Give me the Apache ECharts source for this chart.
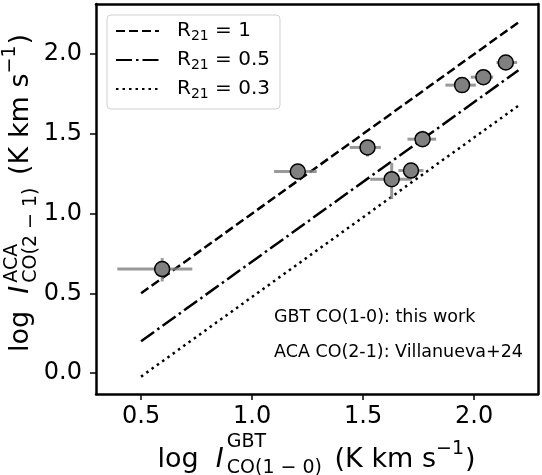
<!DOCTYPE html>
<html><head><meta charset="utf-8">
<script src="https://cdn.jsdelivr.net/npm/echarts@6/dist/echarts.min.js"></script>
<style>html,body{margin:0;padding:0;background:#fff}#c{width:542px;height:475px}</style>
</head><body><div id="c"></div>
<script>
// ---- data ----
const xTicks = [0.5, 1.0, 1.5, 2.0];
const yTicks = [0.0, 0.5, 1.0, 1.5, 2.0];
const ptX   = [0.595, 1.206, 1.520, 1.629, 1.716, 1.768, 1.946, 2.042, 2.143];
const ptY   = [0.652, 1.264, 1.415, 1.216, 1.270, 1.467, 1.806, 1.856, 1.948];
const xLo   = [0.393, 1.099, 1.440, 1.532, 1.659, 1.700, 1.871, 1.985, 2.101];
const xHi   = [0.731, 1.291, 1.580, 1.719, 1.772, 1.829, 2.008, 2.086, 2.194];
const yLo   = [0.574, 1.240, 1.358, 1.091, 1.245, 1.420, 1.782, 1.810, 1.928];
const yHi   = [0.721, 1.288, 1.463, 1.317, 1.295, 1.520, 1.830, 1.900, 1.968];
const lineR1  = [[0.5, 0.5], [2.2, 2.2]];
const lineR05 = [[0.5, 0.199], [2.2, 1.899]];
const lineR03 = [[0.5, -0.023], [2.2, 1.677]];
const legendNames = ['R21 = 1', 'R21 = 0.5', 'R21 = 0.3'];
const noteLines = ['GBT CO(1-0): this work', 'ACA CO(2-1): Villanueva+24'];

const FAM = '"DejaVu Sans", sans-serif';
const chart = echarts.init(document.getElementById('c'), null, {renderer: 'canvas'});

// build math-like title (measured with canvas)
const mctx = document.createElement('canvas').getContext('2d');
function tw(t, sz, it) { mctx.font = (it ? 'italic ' : '') + sz + 'px "DejaVu Sans"'; return mctx.measureText(t).width; }
function mkText(x, base, t, sz, it) {
  return {type: 'text', x: x, y: base - 0.3 * sz,
    style: {text: t, fontSize: sz, fontFamily: FAM, fontStyle: it ? 'italic' : 'normal', fill: '#000',
      textAlign: 'left', verticalAlign: 'middle', textVerticalAlign: 'middle'}};
}
function mathTitle(parts, M, S, supB, subB, supOnly) {
  let x = 0; const kids = [];
  for (const p of parts) {
    if (p.stack) {
      kids.push(mkText(x, supB, p.stack[0], S, false));
      kids.push(mkText(x, subB, p.stack[1], S, false));
      x += Math.max(tw(p.stack[0], S), tw(p.stack[1], S)) + 4;
    } else if (p.sup) {
      kids.push(mkText(x, supOnly, p.sup, S, false));
      x += tw(p.sup, S) + 1;
    } else {
      kids.push(mkText(x, 0, p.t, M, p.it));
      x += tw(p.t, M, p.it) + (p.it ? 3 : 0);
    }
  }
  kids.forEach(k => k.x -= x / 2);
  return kids;
}
const M = 27, S = 19;
const xTitleParts = [{t: 'log  '}, {t: 'I', it: true}, {stack: ['GBT', 'CO(1 − 0)']}, {t: ' (K km s'}, {sup: '−1'}, {t: ')'}];
const yTitleParts = [{t: 'log  '}, {t: 'I', it: true}, {stack: ['ACA', 'CO(2 − 1)']}, {t: ' (K km s'}, {sup: '−1'}, {t: ')'}];

const errData = ptX.map((x, i) => [x, ptY[i], xLo[i], xHi[i], yLo[i], yHi[i]]);
const ptData = ptX.map((x, i) => [x, ptY[i]]);

function legendFmt(name) {
  const v = name.replace('R21', '');
  return '{a|R}{s|21}{r|' + v + '}';
}
const XMIN = 0.297, XMAX = 2.288, YMIN = -0.132, YMAX = 2.315;
const frameAxis = {axisLine: {show: true, onZero: false, lineStyle: {color: '#000', width: 2.5}},
  axisTick: {show: false}, axisLabel: {show: false}, splitLine: {show: false}};

chart.setOption({
  animation: false,
  grid: {left: 96, top: 4, width: 442, height: 390},
  xAxis: [{type: 'value', min: XMIN, max: XMAX, position: 'bottom',
    axisLine: {show: true, onZero: false, lineStyle: {color: '#000', width: 2.5}}, splitLine: {show: false},
    axisTick: {show: true, length: 6, lineStyle: {color: '#000', width: 1.5}, customValues: xTicks},
    axisLabel: {customValues: xTicks, formatter: v => v.toFixed(1), fontSize: 24, fontFamily: FAM, color: '#000', margin: 11}},
    Object.assign({type: 'value', min: XMIN, max: XMAX, position: 'top'}, frameAxis)],
  yAxis: [{type: 'value', min: YMIN, max: YMAX, position: 'left',
    axisLine: {show: true, onZero: false, lineStyle: {color: '#000', width: 2.5}}, splitLine: {show: false},
    axisTick: {show: true, length: 6, lineStyle: {color: '#000', width: 1.5}, customValues: yTicks},
    axisLabel: {customValues: yTicks, formatter: v => v.toFixed(1), fontSize: 24, fontFamily: FAM, color: '#000', margin: 14}},
    Object.assign({type: 'value', min: YMIN, max: YMAX, position: 'right'}, frameAxis)],
  legend: {show: true, data: legendNames, orient: 'vertical', left: 107, top: 15,
    itemWidth: 43, itemHeight: 14, itemGap: 7,
    padding: [6, 10, 8, 8], borderColor: '#d0d0d0', borderWidth: 1, borderRadius: 4,
    backgroundColor: 'rgba(255,255,255,0.8)',
    itemStyle: {color: 'transparent', borderWidth: 0, opacity: 0},
    formatter: legendFmt,
    textStyle: {color: '#000', fontFamily: FAM,
      rich: {a: {fontSize: 20, fontFamily: FAM, color: '#000', lineHeight: 24, verticalAlign: 'middle', padding: [0, 0, 0, 13]},
             r: {fontSize: 20, fontFamily: FAM, color: '#000', lineHeight: 24, verticalAlign: 'middle'},
             s: {fontSize: 14, fontFamily: FAM, color: '#000', lineHeight: 14, verticalAlign: 'bottom'}}}},
  series: [
    {name: legendNames[0], type: 'line', data: lineR1, symbol: 'none', z: 2, color: '#000',
      lineStyle: {color: '#000', width: 2.5, type: [9, 4]}},
    {name: legendNames[1], type: 'line', data: lineR05, symbol: 'none', z: 2, color: '#000',
      lineStyle: {color: '#000', width: 2.5, type: [16, 4, 2.5, 4]}},
    {name: legendNames[2], type: 'line', data: lineR03, symbol: 'none', z: 2, color: '#000',
      lineStyle: {color: '#000', width: 2.5, type: [2.5, 4]}},
    {type: 'custom', data: errData, z: 3, silent: true,
      encode: {x: [0, 2, 3], y: [1, 4, 5]},
      renderItem: (params, api) => {
        const l = api.coord([api.value(2), api.value(1)]);
        const r = api.coord([api.value(3), api.value(1)]);
        const b = api.coord([api.value(0), api.value(4)]);
        const t = api.coord([api.value(0), api.value(5)]);
        const st = {stroke: 'rgba(128,128,128,0.8)', lineWidth: 3};
        return {type: 'group', children: [
          {type: 'line', shape: {x1: l[0], y1: l[1], x2: r[0], y2: r[1]}, style: st},
          {type: 'line', shape: {x1: b[0], y1: b[1], x2: t[0], y2: t[1]}, style: st}
        ]};
      }},
    {type: 'scatter', data: ptData, z: 4, symbol: 'circle', symbolSize: 15,
      itemStyle: {color: '#808080', borderColor: '#000', borderWidth: 1.5, opacity: 1}}
  ],
  graphic: [
    {type: 'group', x: 316.5, y: 468, children: mathTitle(xTitleParts, M, S, -20, 6, -13)},
    {type: 'group', x: 29, y: 193, rotation: Math.PI / 2, children: mathTitle(yTitleParts, M, S, -11, 8, -13)},
    {type: 'text', left: 274, top: 308, style: {text: noteLines[0], fontSize: 17.5, fontFamily: FAM, fill: '#000'}},
    {type: 'text', left: 274, top: 343, style: {text: noteLines[1], fontSize: 17.5, fontFamily: FAM, fill: '#000'}}
  ]
});
</script></body></html>
